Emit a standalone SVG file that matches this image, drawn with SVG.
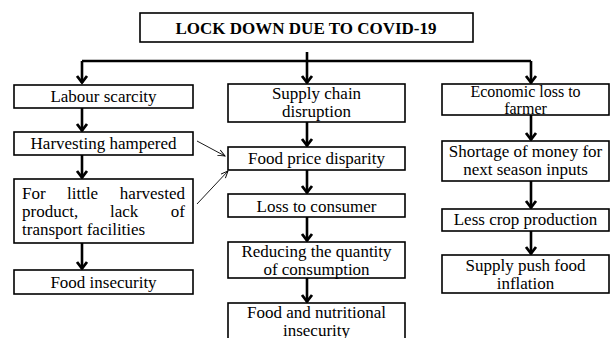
<svg xmlns="http://www.w3.org/2000/svg" width="611" height="338" viewBox="0 0 611 338">
<style>
  rect.box { fill: #fff; stroke: #000; stroke-width: 1.6; }
  text { font-family: "Liberation Serif", "Times New Roman", serif; font-size: 17px; fill: #000; }
  text.c { text-anchor: middle; }
  text.title { font-weight: bold; font-size: 17px; text-anchor: middle; }
  .thick { stroke: #000; stroke-width: 2.6; fill: none; }
  .thin { stroke: #000; stroke-width: 0.9; fill: none; }
</style>
<defs>
  <marker id="ah" markerUnits="userSpaceOnUse" markerWidth="16" markerHeight="16" viewBox="-8 -8 16 16" refX="0" refY="0" orient="auto" overflow="visible">
    <path d="M-7,-5 L-0.5,0 L-7,5" fill="none" stroke="#000" stroke-width="2.8"/>
  </marker>
  <marker id="ahs" markerUnits="userSpaceOnUse" markerWidth="12" markerHeight="12" viewBox="-6 -6 12 12" refX="0" refY="0" orient="auto" overflow="visible">
    <path d="M-7,-3 L0,0 L-7,3" fill="none" stroke="#000" stroke-width="0.9"/>
  </marker>
</defs>
<rect width="611" height="338" fill="#fff"/>

<g id="connectors">
  <path class="thick" d="M307,52 V83" marker-end="url(#ah)"/>
  <path class="thick" d="M82,61 H531"/>
  <path class="thick" d="M82,61 V83" marker-end="url(#ah)"/>
  <path class="thick" d="M531,61 V83" marker-end="url(#ah)"/>
  <path class="thick" d="M82,108 V131" marker-end="url(#ah)"/>
  <path class="thick" d="M82,155 V178" marker-end="url(#ah)"/>
  <path class="thick" d="M82,243 V269" marker-end="url(#ah)"/>
  <path class="thick" d="M307,122 V146" marker-end="url(#ah)"/>
  <path class="thick" d="M307,170 V193" marker-end="url(#ah)"/>
  <path class="thick" d="M307,217 V241" marker-end="url(#ah)"/>
  <path class="thick" d="M307,278 V302" marker-end="url(#ah)"/>
  <path class="thick" d="M531,115 V140" marker-end="url(#ah)"/>
  <path class="thick" d="M531,181 V208" marker-end="url(#ah)"/>
  <path class="thick" d="M531,231 V254" marker-end="url(#ah)"/>
  <path class="thin" d="M197,141 L225,156" marker-end="url(#ahs)"/>
  <path class="thin" d="M197,204 L228,171" marker-end="url(#ahs)"/>
</g>

<g id="title">
  <rect class="box" x="140" y="13" width="333" height="29"/>
  <text class="title" x="306" y="34">LOCK DOWN DUE TO COVID-19</text>
</g>

<g id="labour">
  <rect class="box" x="14" y="85" width="179" height="23"/>
  <text class="c" x="103.5" y="102">Labour scarcity</text>
</g>
<g id="harvesting">
  <rect class="box" x="14" y="132" width="179" height="23"/>
  <text class="c" x="103.5" y="149">Harvesting hampered</text>
</g>
<g id="transport">
  <rect class="box" x="14" y="179" width="179" height="64"/>
  <text x="22" y="199">For</text>
  <text x="67" y="199">little</text>
  <text x="185" y="199" text-anchor="end">harvested</text>
  <text x="22" y="217">product,</text>
  <text x="110" y="217">lack</text>
  <text x="185" y="217" text-anchor="end">of</text>
  <text x="22" y="235">transport facilities</text>
</g>
<g id="food-insecurity">
  <rect class="box" x="14" y="270" width="179" height="24"/>
  <text class="c" x="103.5" y="288">Food insecurity</text>
</g>

<g id="supply-chain">
  <rect class="box" x="228" y="84" width="177" height="38"/>
  <text class="c" x="316.5" y="99">Supply chain</text>
  <text class="c" x="316.5" y="117">disruption</text>
</g>
<g id="food-price">
  <rect class="box" x="228" y="147" width="177" height="23"/>
  <text class="c" x="316.5" y="164">Food price disparity</text>
</g>
<g id="loss-consumer">
  <rect class="box" x="228" y="194" width="177" height="23"/>
  <text class="c" x="316.5" y="212">Loss to consumer</text>
</g>
<g id="reducing">
  <rect class="box" x="228" y="242" width="177" height="36"/>
  <text class="c" x="316.5" y="257">Reducing the quantity</text>
  <text class="c" x="316.5" y="275">of consumption</text>
</g>
<g id="nutritional">
  <rect class="box" x="228" y="303" width="177" height="45"/>
  <text class="c" x="316.5" y="318">Food and nutritional</text>
  <text class="c" x="316.5" y="336">insecurity</text>
</g>

<g id="economic-loss">
  <rect class="box" x="442" y="84" width="167" height="31"/>
  <text class="c" x="525.5" y="97" style="font-size:16px">Economic loss to</text>
  <text class="c" x="525.5" y="114" style="font-size:16px">farmer</text>
</g>
<g id="shortage">
  <rect class="box" x="442" y="141" width="167" height="40"/>
  <text class="c" x="525.5" y="157">Shortage of money for</text>
  <text class="c" x="525.5" y="175">next season inputs</text>
</g>
<g id="less-crop">
  <rect class="box" x="442" y="209" width="167" height="22"/>
  <text class="c" x="525.5" y="225">Less crop production</text>
</g>
<g id="supply-push">
  <rect class="box" x="442" y="255" width="167" height="38"/>
  <text class="c" x="525.5" y="271">Supply push food</text>
  <text class="c" x="525.5" y="289">inflation</text>
</g>
</svg>
